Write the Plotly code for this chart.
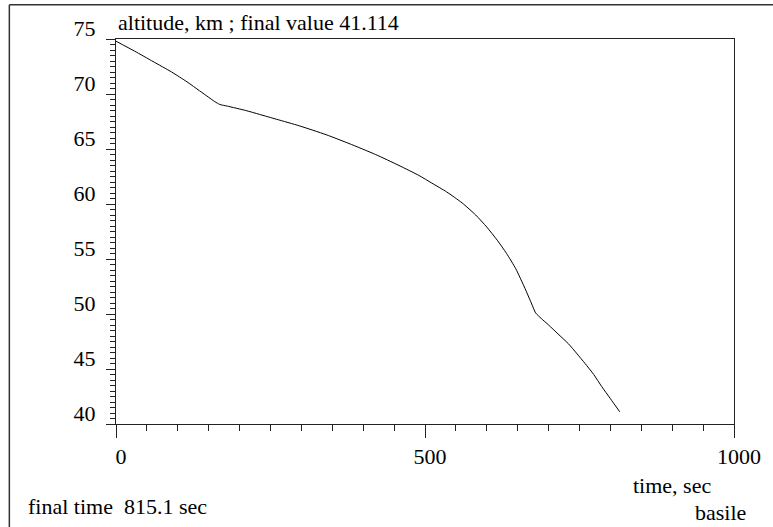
import plotly.graph_objects as go

# data
time_s = [0, 30, 60, 90, 115, 135, 150, 160, 168, 180, 210, 232, 260,
          297, 340, 377, 420, 458, 490, 511, 535, 560, 582, 600, 617, 632, 647, 662,
          672, 679, 688, 700, 715, 732, 745, 759, 773, 786, 800, 815.1]
altitude_km = [74.8, 73.9, 72.95, 72.0, 71.1, 70.3, 69.7, 69.3, 69.05, 68.9, 68.5,
               68.15, 67.7, 67.1, 66.3, 65.5, 64.5, 63.5, 62.6, 61.9, 61.1, 60.1,
               59.0, 57.9, 56.7, 55.5, 54.1, 52.3, 51.0, 50.1, 49.6, 49.0, 48.2,
               47.3, 46.45, 45.5, 44.5, 43.4, 42.3, 41.114]
x_ticks = [0, 500, 1000]
y_ticks = [40, 45, 50, 55, 60, 65, 70, 75]
y_ticktext = ["40", "45", "50", "55", "60", "65", "70", "75"]

W, H = 773, 527
L, R, T, B = 116, 37, 39, 103
pw, ph = W - L - R, H - T - B
FONT = "Liberation Serif"
FS = 22


def px(x):
    return (x - L) / pw


def py(y):
    return (H - B - y) / ph


fig = go.Figure()
fig.add_trace(go.Scatter(x=time_s, y=altitude_km, mode="lines",
                         line=dict(color="black", width=1, shape="spline", smoothing=0.6),
                         hoverinfo="skip", showlegend=False))

axis_common = dict(showgrid=False, zeroline=False, showline=True, mirror=True,
                   linecolor="#222", linewidth=1, ticks="outside", tickcolor="#222",
                   tickwidth=1)

fig.update_xaxes(range=[0, 1000], tickvals=x_ticks, ticklen=13,
                 minor=dict(dtick=50, ticklen=6, ticks="outside", tickcolor="#222",
                            tickwidth=1, showgrid=False),
                 ticklabelshift=5, ticklabelstandoff=0, **axis_common)
fig.update_yaxes(range=[40, 75], tickvals=y_ticks, ticktext=y_ticktext, ticklen=9,
                 minor=dict(dtick=0.5, ticklen=5, ticks="outside", tickcolor="#222",
                            tickwidth=1, showgrid=False),
                 ticklabelshift=-11, ticklabelstandoff=6, **axis_common)

annotations = [
    dict(text="altitude, km ; final value 41.114", x=px(116), y=py(22),
         xanchor="left", yanchor="middle"),
    dict(text="final time  815.1 sec", x=px(26), y=py(506),
         xanchor="left", yanchor="middle"),
    dict(text="time, sec", x=px(633), y=py(485), xanchor="left", yanchor="middle"),
    dict(text="basile", x=px(695), y=py(512), xanchor="left", yanchor="middle"),
]
for a in annotations:
    a.update(xref="paper", yref="paper", showarrow=False)

shapes = [
    dict(type="line", xref="paper", yref="paper", x0=px(9), x1=px(800), y0=py(4.7), y1=py(4.7),
         line=dict(color="#333", width=1.5)),
    dict(type="line", xref="paper", yref="paper", x0=px(9), x1=px(9), y0=py(4.7), y1=py(540),
         line=dict(color="#333", width=1.5)),
]

fig.update_layout(width=W, height=H, margin=dict(l=L, r=R, t=T, b=B),
                  font=dict(family=FONT, size=FS, color="black"),
                  paper_bgcolor="white", plot_bgcolor="white",
                  annotations=annotations, shapes=shapes, showlegend=False)

fig.write_html("out.html")
